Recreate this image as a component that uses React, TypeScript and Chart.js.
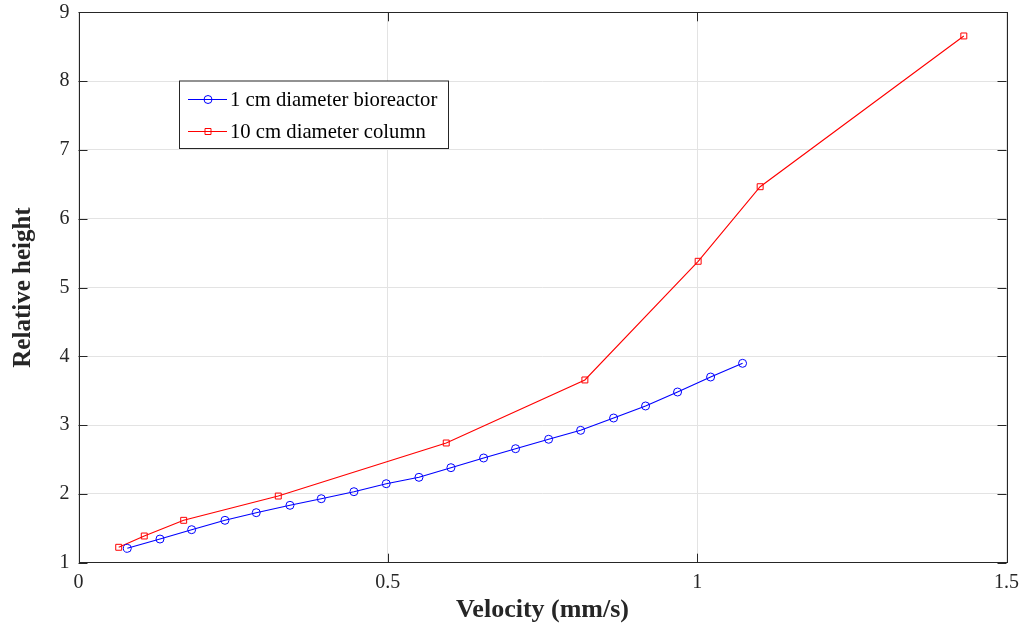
import React, { useEffect, useRef } from "react";
import { Chart, registerables } from "chart.js";

Chart.register(...registerables);

const bioX = [0.0789, 0.1317, 0.1829, 0.2367, 0.2873, 0.3418, 0.3924, 0.4452, 0.4974, 0.5503, 0.602, 0.6548, 0.7065, 0.7599, 0.8116, 0.8649, 0.9166, 0.9683, 1.0217, 1.0734];
const bioY = [1.209, 1.344, 1.48, 1.616, 1.727, 1.834, 1.93, 2.032, 2.148, 2.241, 2.381, 2.522, 2.657, 2.794, 2.924, 3.103, 3.278, 3.481, 3.699, 3.898];
const colX = [0.065, 0.1063, 0.17, 0.3229, 0.5944, 0.8185, 1.0016, 1.1018, 1.431];
const colY = [1.224, 1.388, 1.616, 1.969, 2.74, 3.656, 5.381, 6.465, 8.656];
const xTicks = [0, 0.5, 1, 1.5];
const yTicks = [1, 2, 3, 4, 5, 6, 7, 8, 9];
const seriesNames = ["1 cm diameter bioreactor", "10 cm diameter column"];

const SERIF = '"Liberation Serif", "Times New Roman", serif';
const AXIS = "#262626";

const boxPlugin = {
  id: "boxTicks",
  afterDatasetsDraw(chart: any) {
    const { ctx, chartArea: a, scales } = chart;
    const L = 9;
    ctx.save();
    ctx.strokeStyle = AXIS;
    ctx.lineWidth = 1;
    ctx.beginPath();
    for (const v of xTicks) {
      const px = Math.round(scales.x.getPixelForValue(v)) + 0.5;
      ctx.moveTo(px, a.bottom);
      ctx.lineTo(px, a.bottom - L);
      ctx.moveTo(px, a.top);
      ctx.lineTo(px, a.top + L);
    }
    for (const v of yTicks) {
      const py = Math.round(scales.y.getPixelForValue(v)) + 0.5;
      ctx.moveTo(a.left, py);
      ctx.lineTo(a.left + L, py);
      ctx.moveTo(a.right, py);
      ctx.lineTo(a.right - L, py);
    }
    ctx.stroke();
    ctx.strokeRect(Math.round(a.left) + 0.5, Math.round(a.top) + 0.5, Math.round(a.right - a.left), Math.round(a.bottom - a.top));

    // legend
    const bx = 179.5, by = 81, bw = 269, bh = 67.5;
    ctx.fillStyle = "#ffffff";
    ctx.fillRect(bx, by, bw, bh);
    ctx.strokeStyle = AXIS;
    ctx.strokeRect(bx, by, bw, bh);
    const rows = [
      { y: 99.5, color: "#0000ff", style: "circle" },
      { y: 131.5, color: "#ff0000", style: "rect" },
    ];
    ctx.font = `20.7px ${SERIF}`;
    ctx.textBaseline = "middle";
    rows.forEach((r, i) => {
      ctx.strokeStyle = r.color;
      ctx.beginPath();
      ctx.moveTo(188, r.y);
      ctx.lineTo(227, r.y);
      ctx.stroke();
      ctx.beginPath();
      if (r.style === "circle") {
        ctx.arc(208, r.y, 4, 0, Math.PI * 2);
      } else {
        ctx.rect(205, r.y - 3, 6, 6);
      }
      ctx.stroke();
      ctx.fillStyle = "#000000";
      ctx.fillText(seriesNames[i], 230, r.y + 1);
    });
    ctx.restore();
  },
};

export default function App() {
  const ref = useRef<HTMLCanvasElement>(null);
  useEffect(() => {
    const chart = new Chart(ref.current!, {
      type: "line",
      data: {
        datasets: [
          {
            label: seriesNames[0],
            data: bioX.map((x, i) => ({ x, y: bioY[i] })),
            borderColor: "#0000ff",
            backgroundColor: "rgba(0,0,0,0)",
            borderWidth: 1.1,
            pointStyle: "circle",
            pointRadius: 4,
            pointBorderWidth: 1,
            pointBorderColor: "#0000ff",
            pointBackgroundColor: "rgba(0,0,0,0)",
            tension: 0,
          },
          {
            label: seriesNames[1],
            data: colX.map((x, i) => ({ x, y: colY[i] })),
            borderColor: "#ff0000",
            backgroundColor: "rgba(0,0,0,0)",
            borderWidth: 1.1,
            pointStyle: "rect",
            pointRadius: 4.2,
            pointBorderWidth: 1,
            pointBorderColor: "#ff0000",
            pointBackgroundColor: "rgba(0,0,0,0)",
            tension: 0,
          },
        ],
      },
      options: {
        animation: false,
        responsive: false,
        devicePixelRatio: 1,
        layout: { padding: { left: 0, right: 16.5, top: 12.3, bottom: 0 } },
        plugins: { legend: { display: false }, tooltip: { enabled: false } },
        scales: {
          x: {
            type: "linear",
            min: 0,
            max: 1.5,
            afterBuildTicks: (s: any) => { s.ticks = xTicks.map((v) => ({ value: v })); },
            afterFit: (s: any) => {
              s.height = 632 - 562.7;
              s.paddingLeft = 0; s.paddingRight = 0; s.paddingTop = 0; s.paddingBottom = 0;
            },
            ticks: {
              color: AXIS,
              font: { family: SERIF, size: 20 },
              padding: 8,
              maxRotation: 0,
              callback: (v: any) => String(v),
            },
            grid: { color: "#e3e3e3", drawTicks: false, lineWidth: 1 },
            border: { display: false },
            title: {
              display: true,
              text: "Velocity (mm/s)",
              color: AXIS,
              font: { family: SERIF, size: 26, weight: "bold" },
              padding: 6,
            },
          },
          y: {
            type: "linear",
            min: 1,
            max: 9,
            afterBuildTicks: (s: any) => { s.ticks = yTicks.map((v) => ({ value: v })); },
            afterFit: (s: any) => {
              s.width = 78.5;
              s.paddingLeft = 0; s.paddingRight = 0; s.paddingTop = 0; s.paddingBottom = 0;
            },
            ticks: {
              color: AXIS,
              font: { family: SERIF, size: 20 },
              padding: 9,
              callback: (v: any) => String(v),
            },
            grid: { color: "#e3e3e3", drawTicks: false, lineWidth: 1 },
            border: { display: false },
            title: {
              display: true,
              text: "Relative height",
              color: AXIS,
              font: { family: SERIF, size: 25, weight: "bold" },
              padding: 9,
            },
          },
        },
      },
      plugins: [boxPlugin],
    } as any);
    return () => chart.destroy();
  }, []);
  return (
    <div style={{ position: "fixed", left: 0, top: 0, width: 1023, height: 632, background: "#fff" }}>
      <canvas ref={ref} width={1023} height={632} style={{ display: "block", width: 1023, height: 632 }} />
    </div>
  );
}
